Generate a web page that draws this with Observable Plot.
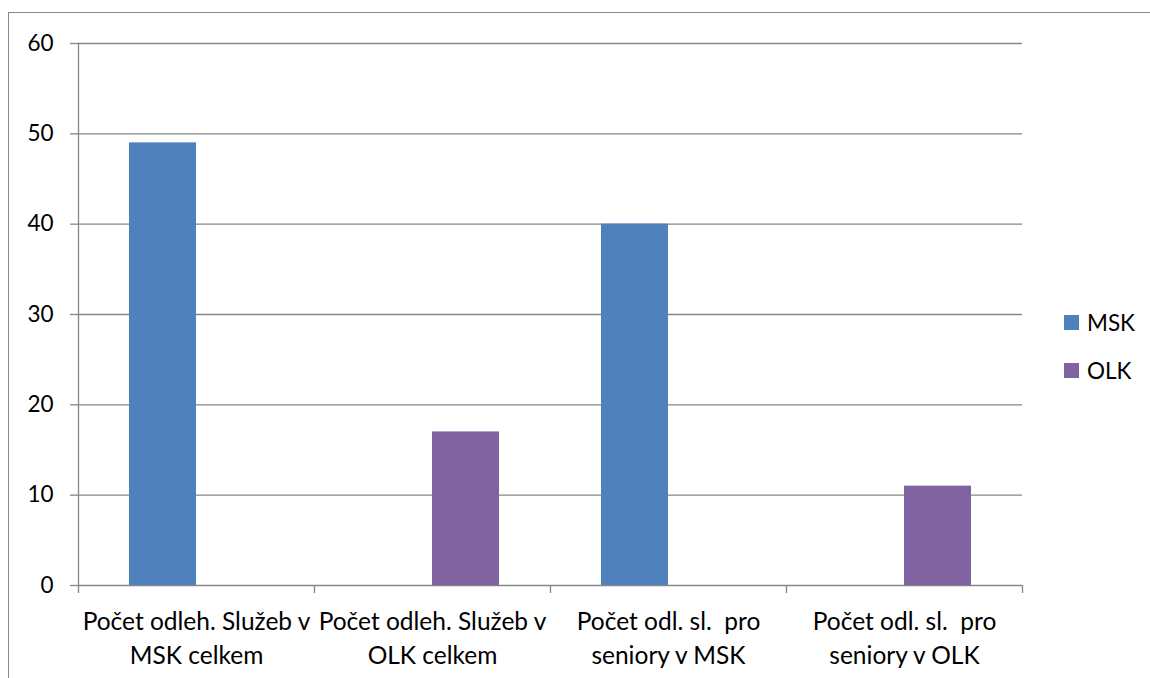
<!DOCTYPE html>
<html>
<head>
<meta charset="utf-8">
<script src="https://cdn.jsdelivr.net/npm/d3@7"></script>
<script src="https://cdn.jsdelivr.net/npm/@observablehq/plot@0.6"></script>
<style>
  html, body { margin: 0; padding: 0; background: #fff; overflow: hidden; }
  #wrap { position: relative; width: 1150px; height: 678px; overflow: hidden; font-family: Lato, sans-serif; }
  #border { position: absolute; left: 8px; top: 12px; width: 1300px; height: 800px; border: 1.5px solid #878787; box-sizing: border-box; }
  #chart { position: absolute; left: 0; top: 0; }
  svg text { white-space: pre; }
  .leg { position: absolute; left: 1064px; display: flex; align-items: center; font-size: 22.5px; color: #000; }
  .leg span.sw { display: inline-block; width: 15px; height: 15px; margin-right: 8px; }
</style>
</head>
<body>
<div id="wrap">
  <div id="border"></div>
  <div id="chart"></div>
  <div id="legend"></div>
</div>
<script>
const categories = [
  "Počet odleh. Služeb v\nMSK celkem",
  "Počet odleh. Služeb v\nOLK celkem",
  "Počet odl. sl.  pro\nseniory v MSK",
  "Počet odl. sl.  pro\nseniory v OLK"
];
const series = ["MSK", "OLK"];
const mskValues = [49, 0, 40, 0];
const olkValues = [0, 17, 0, 11];
const yTicks = [0, 10, 20, 30, 40, 50, 60];
const colors = ["#4F81BD", "#8064A2"];

const data = categories.flatMap((c, i) => [
  {category: c, series: "MSK", value: mskValues[i]},
  {category: c, series: "OLK", value: olkValues[i]}
]);

const W = 1150, H = 678, mL = 78, mR = 128, mT = 43, mB = 93;
const bw = (W - mL - mR) / categories.length;
const gray = "#868686";

const chart = Plot.plot({
  width: W, height: H,
  marginLeft: mL, marginRight: mR, marginTop: mT, marginBottom: mB,
  style: {fontFamily: "Lato, sans-serif", fontSize: "22.5px", color: "#000", background: "transparent", overflow: "visible"},
  fx: {domain: categories, padding: 0, axis: null},
  x: {domain: series, paddingInner: 0, paddingOuter: 0.75, axis: null},
  y: {domain: [0, 60], axis: null},
  color: {domain: series, range: colors},
  marks: [
    Plot.gridY(yTicks, {stroke: gray, strokeOpacity: 1, strokeWidth: 1.3}),
    Plot.frame({anchor: "left", facetAnchor: "left", stroke: gray, strokeWidth: 1.3}),
    Plot.barY(data, {fx: "category", x: "series", y: "value", fill: "series"}),
    Plot.axisY({ticks: yTicks, tickSize: 8, tickPadding: 17, stroke: gray, strokeWidth: 1.3, strokeOpacity: 1, fill: "#000", label: null, tickFormat: d => String(d)}),
    Plot.axisFx({anchor: "bottom", tickSize: 0, tickPadding: 20, fontSize: 24.5, lineHeight: 1.4, label: null, fill: "#000"}),
    Plot.axisFx({anchor: "bottom", tickSize: 8, text: null, dx: -bw / 2, stroke: gray, strokeWidth: 1.3, strokeOpacity: 1, label: null}),
    Plot.axisFx({anchor: "bottom", ticks: [categories[categories.length - 1]], tickSize: 8, text: null, dx: bw / 2, stroke: gray, strokeWidth: 1.3, strokeOpacity: 1, label: null})
  ]
});
document.getElementById("chart").appendChild(chart);

const legend = document.getElementById("legend");
const legTops = [309, 357];
series.forEach((s, i) => {
  const d = document.createElement("div");
  d.className = "leg";
  d.style.top = legTops[i] + "px";
  d.innerHTML = `<span class="sw" style="background:${colors[i]}"></span><span>${s}</span>`;
  legend.appendChild(d);
});
</script>
</body>
</html>
